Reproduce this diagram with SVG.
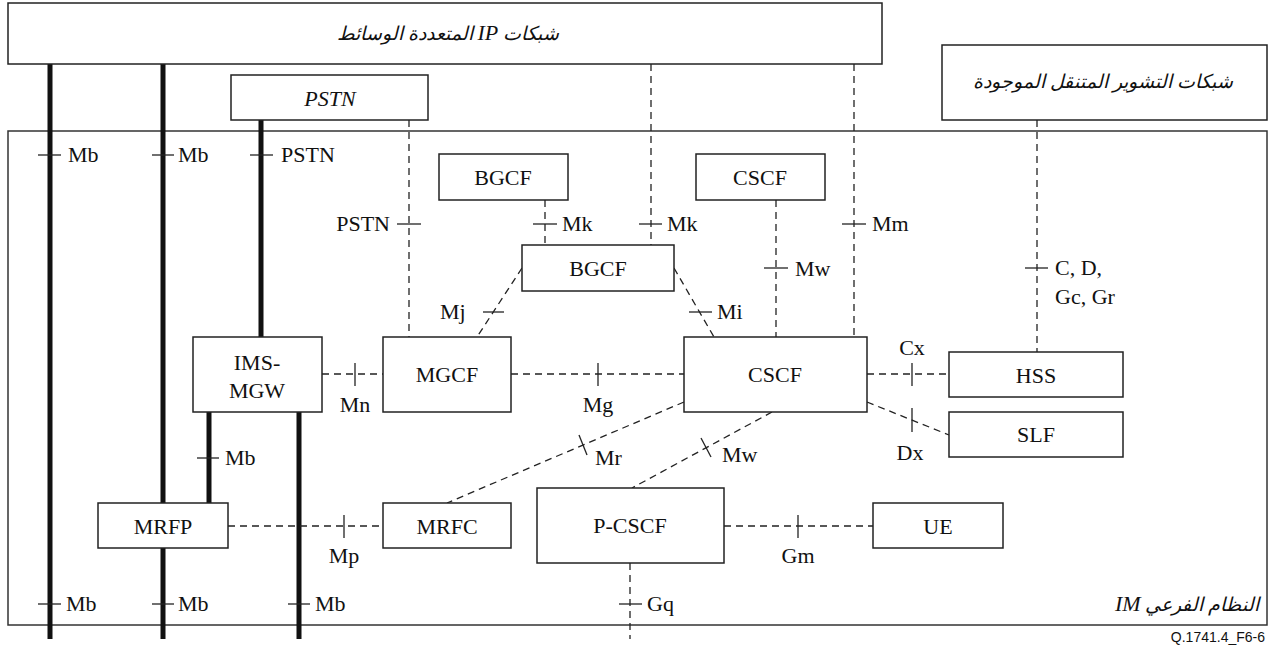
<svg xmlns="http://www.w3.org/2000/svg" width="1273" height="646" viewBox="0 0 1273 646">
  <style>
    .box { fill: #fff; stroke: #222; stroke-width: 1.5; }
    .frame { fill: none; stroke: #333; stroke-width: 1.5; }
    .thick { stroke: #111; stroke-width: 5; fill: none; }
    .dash { stroke: #222; stroke-width: 1.3; stroke-dasharray: 7 5; fill: none; }
    .tick { stroke: #222; stroke-width: 1.3; fill: none; }
    text { font-family: 'Liberation Serif', 'Times New Roman', 'DejaVu Serif', serif; font-size: 22px; fill: #111; }
    .c { text-anchor: middle; }
    .e { text-anchor: end; }
    .ar { font-family: 'Liberation Serif', 'DejaVu Sans', serif; font-size: 19px; font-style: italic; }
    .lat { font-family: 'Liberation Serif', 'Times New Roman', serif; font-size: 22px; }
    .ref { font-family: 'Liberation Sans', Arial, sans-serif; font-size: 14px; }
  </style>

  <!-- IM subsystem frame -->
  <g id="im-subsystem">
    <rect class="frame" x="8" y="131" width="1259" height="494"/>
    <text class="ar c" x="1187" y="611" direction="rtl">النظام الفرعي <tspan class="lat">IM</tspan></text>
  </g>

  <!-- connectors -->
  <g id="connectors">
    <!-- bearer (thick) lines -->
    <line class="thick" x1="50" y1="64" x2="50" y2="639"/>
    <line class="thick" x1="163" y1="64" x2="163" y2="639"/>
    <line class="thick" x1="261" y1="120" x2="261" y2="337"/>
    <line class="thick" x1="209" y1="412" x2="209" y2="503"/>
    <line class="thick" x1="299" y1="412" x2="299" y2="639"/>

    <!-- signalling (dashed) lines -->
    <line class="dash" x1="409" y1="120" x2="409" y2="337"/>
    <line class="dash" x1="651" y1="64" x2="651" y2="245"/>
    <line class="dash" x1="854" y1="64" x2="854" y2="337"/>
    <line class="dash" x1="1037" y1="120" x2="1037" y2="352"/>
    <line class="dash" x1="545" y1="200" x2="545" y2="245"/>
    <line class="dash" x1="776" y1="200" x2="776" y2="337"/>
    <line class="dash" x1="522" y1="268" x2="477" y2="337"/>
    <line class="dash" x1="674" y1="268" x2="714" y2="337"/>
    <line class="dash" x1="322" y1="374" x2="383" y2="374"/>
    <line class="dash" x1="511" y1="374" x2="684" y2="374"/>
    <line class="dash" x1="867" y1="374" x2="949" y2="374"/>
    <line class="dash" x1="867" y1="402" x2="949" y2="435"/>
    <line class="dash" x1="684" y1="402" x2="447" y2="503"/>
    <line class="dash" x1="772" y1="412" x2="632" y2="488"/>
    <line class="dash" x1="228" y1="526" x2="383" y2="526"/>
    <line class="dash" x1="724" y1="526" x2="873" y2="526"/>
    <line class="dash" x1="630" y1="563" x2="630" y2="639"/>

    <!-- reference point ticks -->
    <line class="tick" x1="38" y1="155" x2="61" y2="155"/>
    <line class="tick" x1="152" y1="155" x2="174" y2="155"/>
    <line class="tick" x1="250" y1="155" x2="273" y2="155"/>
    <line class="tick" x1="397" y1="224" x2="421" y2="224"/>
    <line class="tick" x1="533" y1="224" x2="557" y2="224"/>
    <line class="tick" x1="639" y1="224" x2="662" y2="224"/>
    <line class="tick" x1="842" y1="224" x2="866" y2="224"/>
    <line class="tick" x1="764" y1="268" x2="788" y2="268"/>
    <line class="tick" x1="1025" y1="268" x2="1048" y2="268"/>
    <line class="tick" x1="483" y1="312" x2="504" y2="312"/>
    <line class="tick" x1="689" y1="312" x2="712" y2="312"/>
    <line class="tick" x1="355" y1="363" x2="355" y2="386"/>
    <line class="tick" x1="598" y1="363" x2="598" y2="386"/>
    <line class="tick" x1="912" y1="363" x2="912" y2="386"/>
    <line class="tick" x1="912" y1="408" x2="912" y2="432"/>
    <line class="tick" x1="579" y1="435" x2="587" y2="455"/>
    <line class="tick" x1="701" y1="438" x2="711" y2="457"/>
    <line class="tick" x1="197" y1="458" x2="219" y2="458"/>
    <line class="tick" x1="344" y1="515" x2="344" y2="538"/>
    <line class="tick" x1="798" y1="515" x2="798" y2="538"/>
    <line class="tick" x1="38" y1="604" x2="61" y2="604"/>
    <line class="tick" x1="152" y1="604" x2="174" y2="604"/>
    <line class="tick" x1="288" y1="604" x2="310" y2="604"/>
    <line class="tick" x1="619" y1="604" x2="642" y2="604"/>

    <!-- reference point labels -->
    <text x="68" y="162">Mb</text>
    <text x="178" y="162">Mb</text>
    <text x="281" y="162">PSTN</text>
    <text class="e" x="390" y="231">PSTN</text>
    <text x="562" y="231">Mk</text>
    <text x="667" y="231">Mk</text>
    <text x="872" y="231">Mm</text>
    <text x="795" y="276">Mw</text>
    <text x="1055" y="275">C, D,</text>
    <text x="1055" y="304">Gc, Gr</text>
    <text x="440" y="319">Mj</text>
    <text x="717" y="319">Mi</text>
    <text class="c" x="912" y="355">Cx</text>
    <text class="c" x="355" y="412">Mn</text>
    <text class="c" x="598" y="412">Mg</text>
    <text class="c" x="910" y="460">Dx</text>
    <text x="225" y="465">Mb</text>
    <text x="595" y="465">Mr</text>
    <text x="722" y="462">Mw</text>
    <text class="c" x="344" y="563">Mp</text>
    <text class="c" x="798" y="563">Gm</text>
    <text x="66" y="611">Mb</text>
    <text x="178" y="611">Mb</text>
    <text x="315" y="611">Mb</text>
    <text x="647" y="611">Gq</text>
  </g>

  <!-- external networks -->
  <g id="ip-multimedia-networks">
    <rect class="box" x="8" y="3" width="874" height="61"/>
    <text class="ar c" x="448" y="40" direction="rtl">شبكات <tspan class="lat">IP</tspan> المتعددة الوسائط</text>
  </g>
  <g id="pstn">
    <rect class="box" x="231" y="75" width="197" height="45"/>
    <text class="c" x="330" y="106" font-style="italic">PSTN</text>
  </g>
  <g id="legacy-mobile-networks">
    <rect class="box" x="942" y="45" width="325" height="75"/>
    <text class="ar c" x="1103" y="88" direction="rtl">شبكات التشوير المتنقل الموجودة</text>
  </g>

  <!-- IM subsystem nodes -->
  <g id="bgcf-ext">
    <rect class="box" x="439" y="154" width="129" height="46"/>
    <text class="c" x="503" y="185">BGCF</text>
  </g>
  <g id="cscf-ext">
    <rect class="box" x="696" y="154" width="129" height="46"/>
    <text class="c" x="760" y="185">CSCF</text>
  </g>
  <g id="bgcf">
    <rect class="box" x="522" y="245" width="152" height="46"/>
    <text class="c" x="598" y="276">BGCF</text>
  </g>
  <g id="ims-mgw">
    <rect class="box" x="193" y="337" width="129" height="75"/>
    <text class="c" x="257" y="370">IMS-</text>
    <text class="c" x="257" y="398">MGW</text>
  </g>
  <g id="mgcf">
    <rect class="box" x="383" y="337" width="128" height="75"/>
    <text class="c" x="447" y="382">MGCF</text>
  </g>
  <g id="cscf">
    <rect class="box" x="684" y="337" width="183" height="75"/>
    <text class="c" x="775" y="382">CSCF</text>
  </g>
  <g id="hss">
    <rect class="box" x="949" y="352" width="174" height="45"/>
    <text class="c" x="1036" y="383">HSS</text>
  </g>
  <g id="slf">
    <rect class="box" x="949" y="412" width="174" height="45"/>
    <text class="c" x="1036" y="442">SLF</text>
  </g>
  <g id="mrfp">
    <rect class="box" x="98" y="503" width="130" height="45"/>
    <text class="c" x="163" y="534">MRFP</text>
  </g>
  <g id="mrfc">
    <rect class="box" x="383" y="503" width="128" height="45"/>
    <text class="c" x="447" y="534">MRFC</text>
  </g>
  <g id="p-cscf">
    <rect class="box" x="537" y="488" width="187" height="75"/>
    <text class="c" x="630" y="533">P-CSCF</text>
  </g>
  <g id="ue">
    <rect class="box" x="873" y="503" width="130" height="45"/>
    <text class="c" x="938" y="534">UE</text>
  </g>

  <text class="ref" x="1265" y="642" text-anchor="end">Q.1741.4_F6-6</text>
</svg>
